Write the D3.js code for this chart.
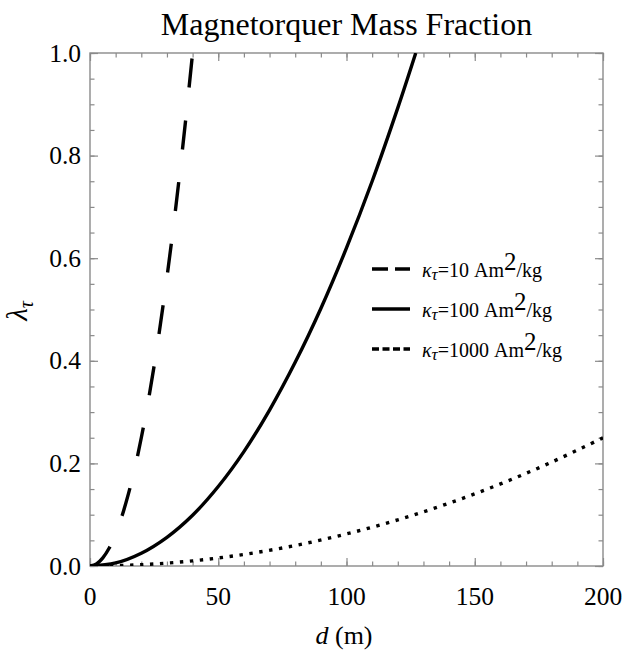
<!DOCTYPE html>
<html>
<head>
<meta charset="utf-8">
<script src="https://cdn.jsdelivr.net/npm/d3@7"></script>
<style>
  html, body { margin: 0; padding: 0; background: #fff; }
  svg { display: block; }
  svg text { font-family: "Liberation Serif", "Times New Roman", Times, serif; fill: #000; }
</style>
</head>
<body>
<svg id="chart" width="623" height="651"></svg>
<script>
// ---- data ----
const title = "Magnetorquer Mass Fraction";
const xMajorTicks = [0, 50, 100, 150, 200];
const xTickLabels = ["0", "50", "100", "150", "200"];
const yMajorTicks = [0, 0.2, 0.4, 0.6, 0.8, 1.0];
const yTickLabels = ["0.0", "0.2", "0.4", "0.6", "0.8", "1.0"];
const xMinorTicks = [0,10,20,30,40,50,60,70,80,90,100,110,120,130,140,150,160,170,180,190,200];
const yMinorTicks = [0,0.05,0.1,0.15,0.2,0.25,0.3,0.35,0.4,0.45,0.5,0.55,0.6,0.65,0.7,0.75,0.8,0.85,0.9,0.95,1.0];

// kappa = 10 Am^2/kg (dashed)
const k10_d = [0, 2.5, 5, 7.5, 10, 12.5, 15, 17.5, 20, 22.5, 25, 27.5, 30, 32.5, 35, 37.5, 40];
const k10_l = [0, 0.004, 0.016, 0.035, 0.063, 0.098, 0.141, 0.191, 0.25, 0.316, 0.39, 0.473, 0.563, 0.66, 0.766, 0.879, 1.0];
// kappa = 100 Am^2/kg (solid)
const k100_d = [0, 10, 20, 30, 40, 50, 60, 70, 80, 90, 100, 110, 120, 127];
const k100_l = [0, 0.006, 0.025, 0.056, 0.099, 0.155, 0.223, 0.304, 0.397, 0.502, 0.62, 0.75, 0.893, 1.0];
// kappa = 1000 Am^2/kg (dotted)
const k1000_d = [0, 20, 40, 60, 80, 100, 120, 140, 160, 180, 200];
const k1000_l = [0, 0.0025, 0.01, 0.0225, 0.04, 0.0625, 0.09, 0.1225, 0.16, 0.2025, 0.25];

const legendKappa = ["10", "100", "1000"];

// ---- layout ----
const svg = d3.select("#chart");
const L = 90, R = 603, T = 53, B = 566;
const x = d3.scaleLinear().domain([0, 200]).range([L, R]);
const y = d3.scaleLinear().domain([0, 1]).range([B, T]);
const frameColor = "#8a8a8a";

svg.append("defs").append("clipPath").attr("id", "clip")
  .append("rect").attr("x", L).attr("y", T).attr("width", R - L).attr("height", B - T);

// Title
svg.append("text").attr("x", (L + R) / 2).attr("y", 35)
  .attr("text-anchor", "middle").style("font-size", "32px").text(title);

// Tick marks (inward, mirrored) via d3 axes
function styleAxis(g) {
  g.attr("font-family", null).attr("font-size", null);
  g.select(".domain").remove();
  g.selectAll(".tick line").attr("stroke", frameColor).attr("stroke-width", 1.2);
  g.selectAll(".tick text").remove();
}
[[xMajorTicks, 8], [xMinorTicks, 4.5]].forEach(([vals, len]) => {
  svg.append("g").attr("transform", `translate(0,${B})`)
    .call(d3.axisBottom(x).tickValues(vals).tickSize(-len).tickFormat("")).call(styleAxis);
  svg.append("g").attr("transform", `translate(0,${T})`)
    .call(d3.axisTop(x).tickValues(vals).tickSize(-len).tickFormat("")).call(styleAxis);
});
[[yMajorTicks, 8], [yMinorTicks, 4.5]].forEach(([vals, len]) => {
  svg.append("g").attr("transform", `translate(${L},0)`)
    .call(d3.axisLeft(y).tickValues(vals).tickSize(-len).tickFormat("")).call(styleAxis);
  svg.append("g").attr("transform", `translate(${R},0)`)
    .call(d3.axisRight(y).tickValues(vals).tickSize(-len).tickFormat("")).call(styleAxis);
});

// Tick labels
svg.append("g").selectAll("text").data(xMajorTicks).join("text")
  .attr("x", d => x(d)).attr("y", B + 39).attr("text-anchor", "middle")
  .style("font-size", "25.5px").text((d, i) => xTickLabels[i]);
svg.append("g").selectAll("text").data(yMajorTicks).join("text")
  .attr("x", L - 9).attr("y", d => y(d) + 8.5).attr("text-anchor", "end")
  .style("font-size", "25.5px").text((d, i) => yTickLabels[i]);

// Frame
svg.append("rect").attr("x", L).attr("y", T).attr("width", R - L).attr("height", B - T)
  .attr("fill", "none").attr("stroke", frameColor).attr("stroke-width", 1.4);

// Curves
const line = d3.line().x(d => x(d[0])).y(d => y(d[1])).curve(d3.curveCatmullRom);
const series = [
  { d: k10_d, l: k10_l, dash: "29,33" },
  { d: k100_d, l: k100_l, dash: null },
  { d: k1000_d, l: k1000_l, dash: "3.4,6.6" }
];
const gCurves = svg.append("g").attr("clip-path", "url(#clip)");
series.forEach(s => {
  const pts = s.d.map((v, i) => [v, s.l[i]]);
  gCurves.append("path").datum(pts).attr("d", line)
    .attr("fill", "none").attr("stroke", "#000").attr("stroke-width", 3.4)
    .attr("stroke-dasharray", s.dash);
});

// Axis labels
const xl = svg.append("text").attr("x", 344).attr("y", 644).attr("text-anchor", "middle").style("font-size", "26px");
xl.append("tspan").style("font-style", "italic").text("d");
xl.append("tspan").text(" (m)");

const yl = svg.append("text").attr("transform", "translate(27,311) rotate(-90)")
  .attr("text-anchor", "middle").style("font-size", "29px");
yl.append("tspan").style("font-style", "italic").text("λ");
yl.append("tspan").style("font-style", "italic").style("font-size", "20px").attr("dy", 6).text("τ");

// Legend
const legendDash = ["16,7", null, "7,3.5"];
const legendY = [269, 309, 349];
legendKappa.forEach((k, i) => {
  const yy = legendY[i];
  svg.append("line").attr("x1", 372).attr("x2", 410).attr("y1", yy).attr("y2", yy)
    .attr("stroke", "#000").attr("stroke-width", 3.4).attr("stroke-dasharray", legendDash[i]);
  const t = svg.append("text").attr("x", 422).attr("y", yy + 8).style("font-size", "20px");
  t.append("tspan").style("font-style", "italic").text("κ");
  t.append("tspan").style("font-style", "italic").style("font-size", "17px").attr("dy", 3).text("τ");
  t.append("tspan").attr("dy", -3).text("=" + k + " Am");
  t.append("tspan").style("font-size", "25px").attr("dy", -7).text("2");
  t.append("tspan").attr("dy", 7).text("/kg");
});
</script>
</body>
</html>
